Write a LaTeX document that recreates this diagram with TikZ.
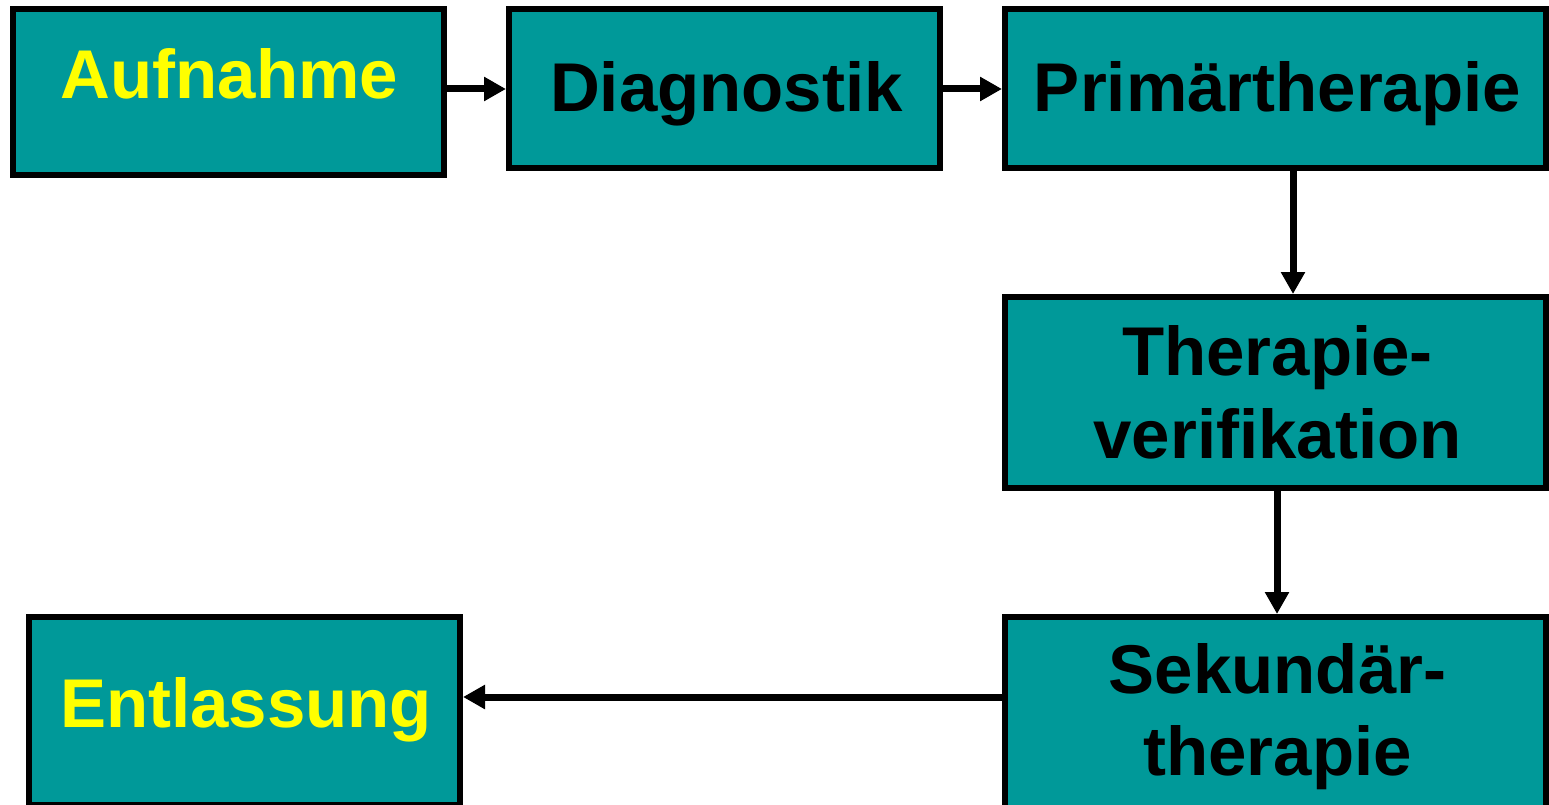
\documentclass[tikz,border=0pt]{standalone}
\usepackage{fontspec}
\setmainfont{Liberation Sans}
\usetikzlibrary{arrows.meta}
\definecolor{boxteal}{RGB}{0,153,153}
\definecolor{labelyellow}{RGB}{255,255,0}
\tikzset{
  stage/.style={draw=black, fill=boxteal, line width=6pt, inner sep=0pt,
                minimum width=#1, rectangle},
  caption/.style={font=\bfseries\fontsize{69}{83}\selectfont, anchor=base,
                  inner sep=0pt, align=center},
  flow/.style={line width=7pt, -{Triangle[length=22pt,width=23pt]}},
}
\begin{document}
\begin{tikzpicture}[x=1pt, y=-1pt]
  \useasboundingbox (0,0) rectangle (1549,805);

  % process boxes
  \node[stage=431pt, minimum height=166pt] (auf)  at (228.5,92)   {};
  \node[stage=431pt, minimum height=159pt] (dia)  at (724.5,88.5) {};
  \node[stage=541pt, minimum height=159pt] (prim) at (1275.5,88.5){};
  \node[stage=541pt, minimum height=191pt] (ver)  at (1275.5,392.5){};
  \node[stage=541pt, minimum height=193pt] (sek)  at (1275.5,713.5){};
  \node[stage=431pt, minimum height=188pt] (ent)  at (244.5,711) {};

  % box labels
  \node[caption, text=labelyellow] (tauf) at (229.5,99)  {Aufnahme};
  \node[caption] (tdia) at (726.5,112) {Diagnostik};
  \node[caption] (tprim) at (1277.5,112) {Primärtherapie};
  \node[caption] (tver1) at (1277.5,375) {Therapie-};
  \node[caption] (tver2) at (1277.5,458) {verifikation};
  \node[caption] (tsek1) at (1277.5,693) {Sekundär-};
  \node[caption] (tsek2) at (1277.5,775) {therapie};
  \node[caption, text=labelyellow] (tent) at (246,727) {Entlassung};

  % connectors
  \coordinate (ad) at (auf.east |- 0,89);
  \coordinate (dp) at (dia.east |- 0,89);
  \draw[flow] (ad) -- (ad -| dia.west);
  \draw[flow] (dp) -- (dp -| prim.west);
  \coordinate (pv) at (1293,0);
  \draw[flow] (pv |- prim.south) -- (pv |- ver.north);
  \coordinate (vs) at (1277,0);
  \draw[flow] (vs |- ver.south) -- (vs |- sek.north);
  \coordinate (se) at (0,697);
  \draw[flow] (se -| sek.west) -- (se -| ent.east);
\end{tikzpicture}
\end{document}
